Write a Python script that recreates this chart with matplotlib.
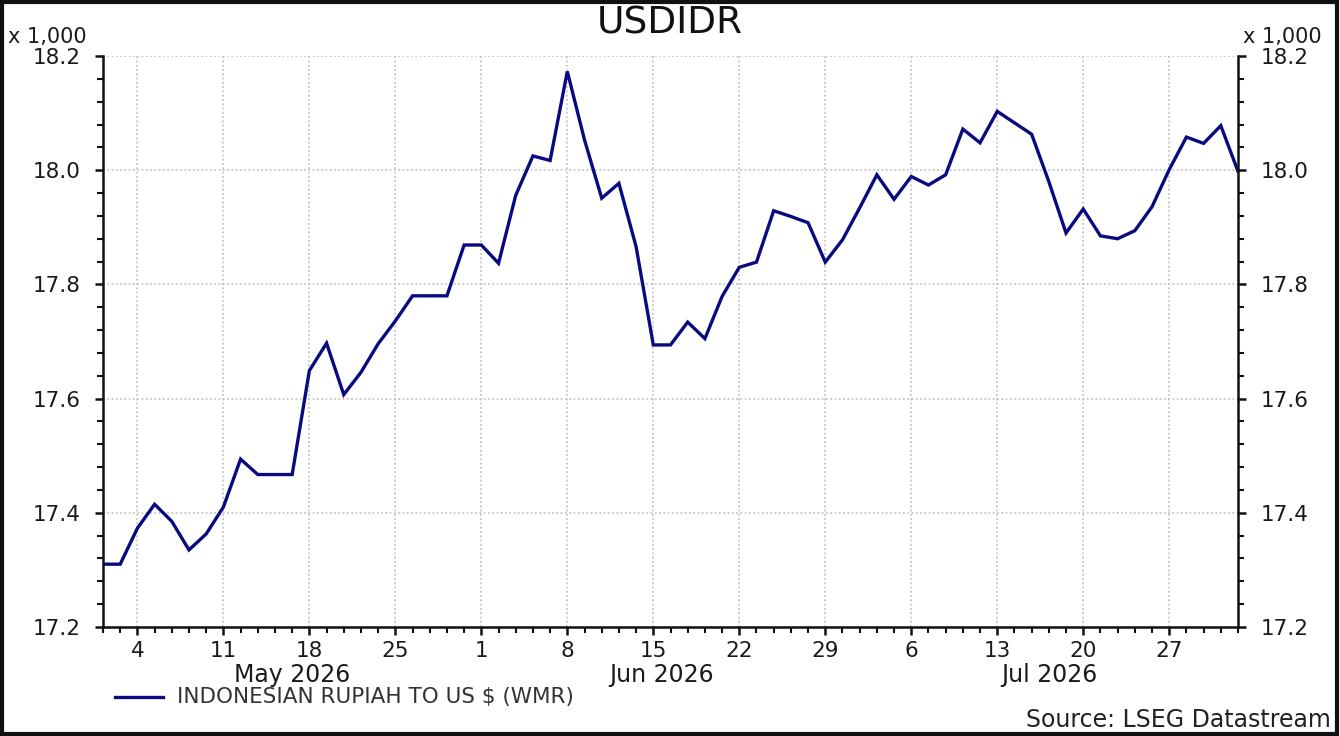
import matplotlib
matplotlib.use("Agg")
import matplotlib.pyplot as plt
import matplotlib.transforms as mtransforms
from matplotlib.patches import Rectangle
import numpy as np
import pandas as pd

plt.rcParams['font.family'] = ['DejaVu Sans']

# business days 30 Apr 2026 .. 31 Jul 2026
dates = pd.bdate_range("2026-04-30", "2026-07-31")

# USDIDR, in thousands of rupiah
usdidr = [
    17.310, 17.310,
    17.373, 17.415, 17.385, 17.335, 17.363,
    17.410, 17.494, 17.467, 17.467, 17.467,
    17.649, 17.697, 17.607, 17.646, 17.696,
    17.736, 17.780, 17.780, 17.780, 17.869,
    17.869, 17.837, 17.956, 18.025, 18.017,
    18.173, 18.053, 17.951, 17.977, 17.866,
    17.694, 17.694, 17.734, 17.705, 17.779,
    17.830, 17.839, 17.929, 17.919, 17.908,
    17.839, 17.878, 17.934, 17.992, 17.949,
    17.989, 17.974, 17.992, 18.072, 18.048,
    18.103, 18.083, 18.063, 17.980, 17.890,
    17.932, 17.885, 17.880, 17.894, 17.936,
    18.001, 18.058, 18.047, 18.078, 17.998,
]

title = "USDIDR"
series_name = "INDONESIAN RUPIAH TO US $ (WMR)"
source = "Source: LSEG Datastream"
yticks = [17.2, 17.4, 17.6, 17.8, 18.0, 18.2]

navy = "#0a0a80"
W, H = 1340, 736

fig = plt.figure(figsize=(W / 100, H / 100), dpi=100)
ax = fig.add_axes([103 / W, 1 - 627 / H, (1238 - 103) / W, (627 - 56) / H])

x = np.arange(len(dates))
ax.plot(x, usdidr, color=navy, lw=2.4, solid_joinstyle="miter")

ax.set_xlim(0, len(dates) - 1)
ax.set_ylim(17.2, 18.2)

# mondays get a major tick with the day number, every business day a minor tick
mondays = [i for i, d in enumerate(dates) if d.weekday() == 0]
ax.set_xticks(mondays)
ax.set_xticklabels([str(dates[i].day) for i in mondays])
ax.set_xticks(x, minor=True)

ax.set_yticks(yticks)
ax.set_yticklabels([f"{v:.1f}" for v in yticks])
ax.set_yticks(np.arange(17.2, 18.2001, 0.04), minor=True)

ax.tick_params(axis="both", which="both", colors="#111111", labelcolor="#1a1a1a")
ax.tick_params(axis="y", which="both", left=True, right=True,
               labelleft=True, labelright=True, direction="out")
ax.tick_params(axis="y", which="major", length=6, width=1.8, labelsize=15.5, pad=10)
ax.tick_params(axis="y", which="minor", length=4, width=1.5)
ax.tick_params(axis="x", which="major", length=6, width=1.8, labelsize=15.5, pad=4)
ax.tick_params(axis="x", which="minor", length=4, width=1.5)

ax.spines["top"].set_visible(False)
for s in ["left", "right", "bottom"]:
    ax.spines[s].set_linewidth(1.8)
    ax.spines[s].set_color("#111111")

ax.grid(True, which="major", color="#bdbdbd", linestyle=(0, (1.2, 1.6)), linewidth=1.1)
ax.set_axisbelow(True)

# month labels centred under each month's span
trans = mtransforms.blended_transform_factory(ax.transData, ax.transAxes)
for m in [5, 6, 7]:
    idx = [i for i, d in enumerate(dates) if d.month == m]
    ax.text(np.mean(idx), -0.084, dates[idx[0]].strftime("%b %Y"),
            transform=trans, ha="center", va="center", fontsize=17, color="#1a1a1a")

fig.text(670 / W, 1 - 23 / H, title, ha="center", va="center", fontsize=27, color="#111111")
fig.text(8 / W, 1 - 37 / H, "x 1,000", ha="left", va="center", fontsize=15, color="#1a1a1a")
fig.text(1243 / W, 1 - 37 / H, "x 1,000", ha="left", va="center", fontsize=15, color="#1a1a1a")

# legend drawn by hand below the axis
fig.add_artist(plt.Line2D([115 / W, 163 / W], [1 - 697 / H, 1 - 697 / H],
                          color=navy, lw=2.4, transform=fig.transFigure))
fig.text(177 / W, 1 - 697 / H, series_name, ha="left", va="center",
         fontsize=15.5, color="#333333")
fig.text(1331 / W, 1 - 720 / H, source, ha="right", va="center",
         fontsize=17, color="#222222")

# outer frame
fig.add_artist(Rectangle((1.5 / W, 2.5 / H), (W - 5) / W, (H - 4.5) / H,
                         transform=fig.transFigure, fill=False,
                         edgecolor="#111111", linewidth=3))

fig.savefig("out.png", dpi=100)
